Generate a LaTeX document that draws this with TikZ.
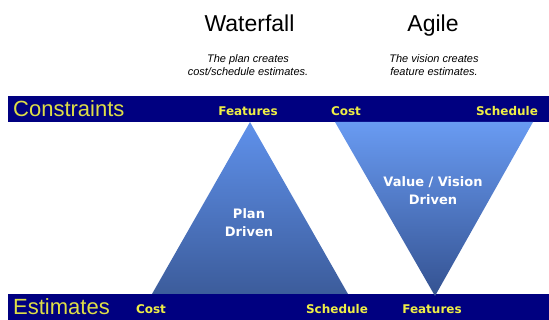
\documentclass[tikz,border=0pt]{standalone}
\usepackage{fontspec}
\setmainfont{Liberation Sans}
\newfontfamily\dvfont{DejaVu Sans}
\definecolor{bandblue}{RGB}{0,0,128}
\definecolor{labyellow}{RGB}{238,238,70}
\definecolor{bigyellow}{RGB}{222,222,70}
\definecolor{wtop}{RGB}{95,145,235}
\definecolor{wbot}{RGB}{60,92,155}
\definecolor{atop}{RGB}{105,155,242}
\definecolor{abot}{RGB}{52,82,145}
\tikzset{
  band/.style={fill=bandblue, draw=none},
  title/.style={anchor=base, font=\fontsize{23}{27}\selectfont},
  subtitle/.style={align=center, font=\fontsize{11}{13}\selectfont\itshape, inner sep=0pt},
  bandlabel/.style={anchor=base west, text=bigyellow, font=\fontsize{22}{26}\selectfont, inner sep=0pt},
  corner/.style={anchor=base, text=labyellow, font=\dvfont\bfseries\fontsize{12}{14}\selectfont, inner sep=0pt},
  inner/.style={align=center, text=white, font=\dvfont\bfseries\fontsize{13}{18}\selectfont, inner sep=0pt}
}
\begin{document}
\begin{tikzpicture}[x=1pt,y=-1pt]
\useasboundingbox (0,0) rectangle (549,320);
% bands
\path[band] (8,96) rectangle (549,122);
\path[band] (8,294) rectangle (549,320);
% triangles
\coordinate (wA) at (250,122);
\coordinate (wL) at (152,294);
\coordinate (wR) at (348,294);
\shade[top color=wtop, bottom color=wbot] (wA) -- (wR) -- (wL) -- cycle;
\coordinate (aL) at (335,122);
\coordinate (aR) at (533,122);
\coordinate (aA) at (435,296);
\shade[top color=atop, bottom color=abot] (aL) -- (aR) -- (aA) -- cycle;
% titles
\node[title] (wf) at (249.5,32) {Waterfall};
\node[title] (ag) at (433,32) {Agile};
\node[subtitle] (wfs) at (248,65.5) {The plan creates\\cost/schedule estimates.};
\node[subtitle] (ags) at (434,65.5) {The vision creates\\feature estimates.};
% band labels
\node[bandlabel] (cons) at (13,117) {Constraints};
\node[bandlabel] (est) at (13,315) {Estimates};
\node[corner] (tf) at (248,116) {Features};
\node[corner] (tc) at (346,116) {Cost};
\node[corner] (ts) at (507,116) {Schedule};
\node[corner] (bc) at (151,314) {Cost};
\node[corner] (bs) at (337,314) {Schedule};
\node[corner] (bf) at (432,314) {Features};
% inner texts
\node[inner] (plan) at (249,223) {Plan\\Driven};
\node[inner] (val) at (433,191) {Value / Vision\\Driven};
\end{tikzpicture}
\end{document}
